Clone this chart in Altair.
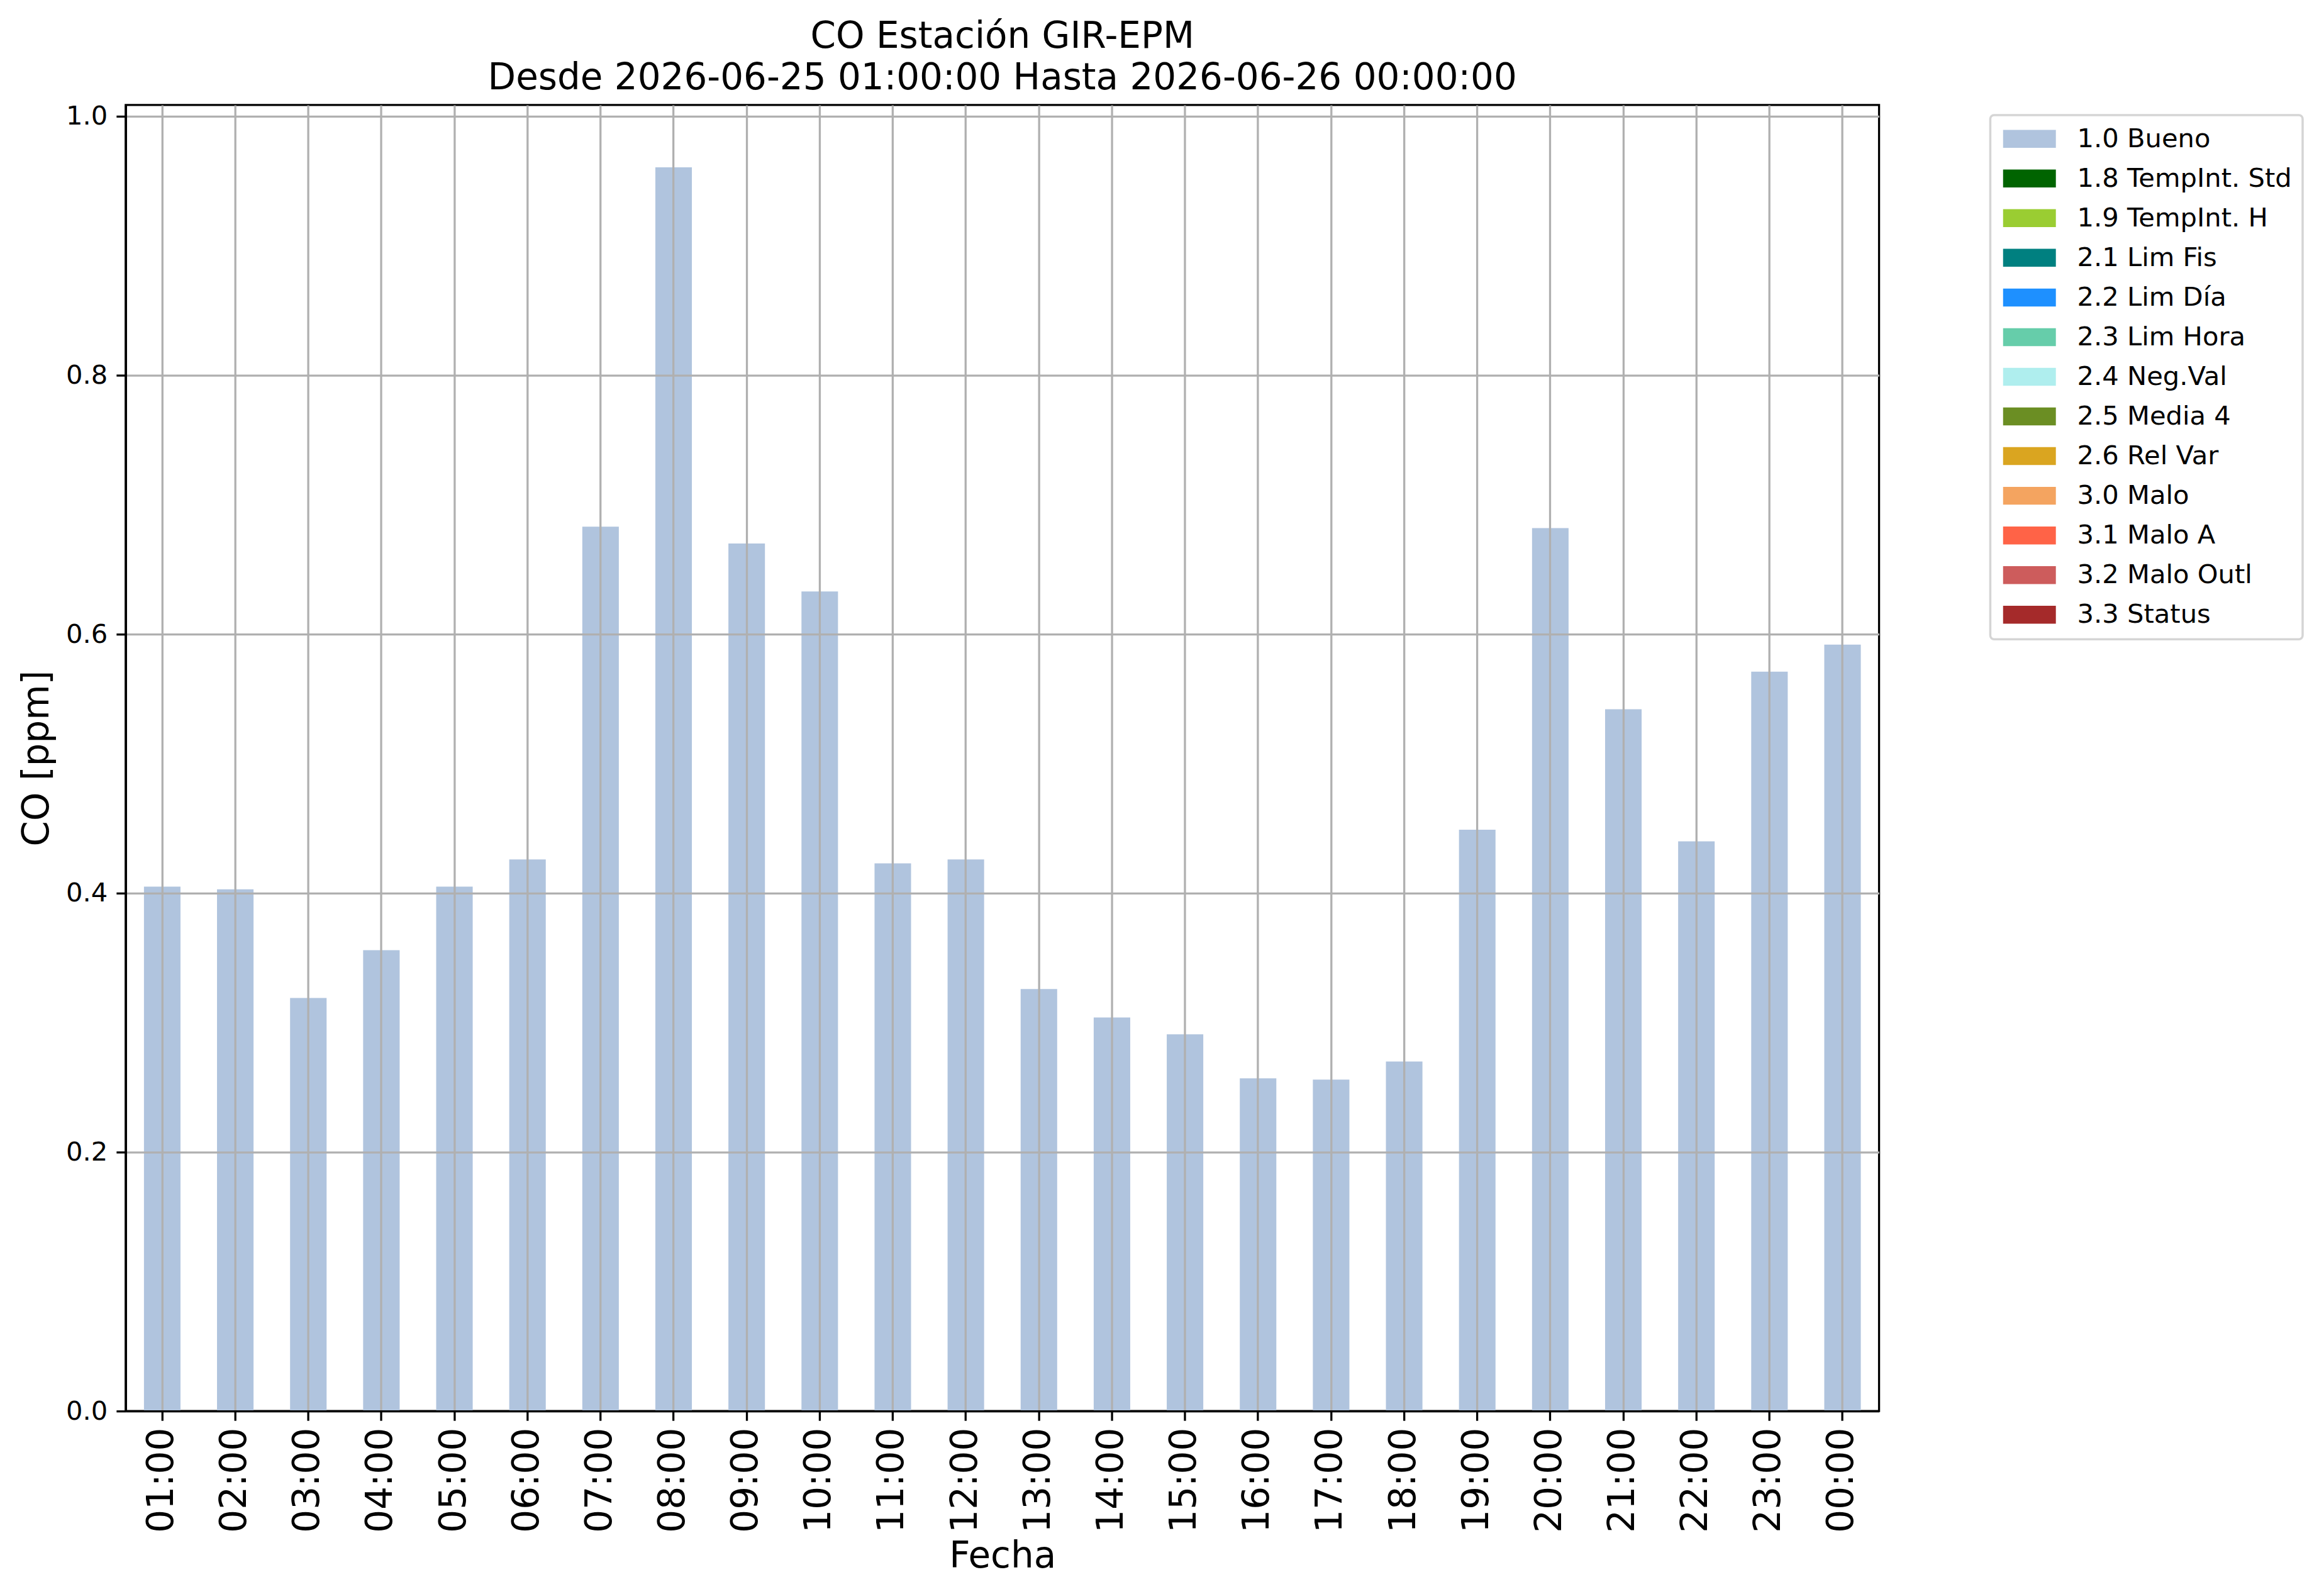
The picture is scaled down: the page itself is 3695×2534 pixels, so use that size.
import altair as alt
import pandas as pd

hours = ["01:00", "02:00", "03:00", "04:00", "05:00", "06:00", "07:00", "08:00",
         "09:00", "10:00", "11:00", "12:00", "13:00", "14:00", "15:00", "16:00",
         "17:00", "18:00", "19:00", "20:00", "21:00", "22:00", "23:00", "00:00"]
co_values = [0.405, 0.403, 0.319, 0.356, 0.405, 0.426, 0.683, 0.9605,
             0.670, 0.633, 0.423, 0.426, 0.326, 0.304, 0.291, 0.257,
             0.256, 0.270, 0.449, 0.682, 0.542, 0.440, 0.571, 0.592]
flag_names = ["1.0 Bueno", "1.8 TempInt. Std", "1.9 TempInt. H", "2.1 Lim Fis",
              "2.2 Lim Día", "2.3 Lim Hora", "2.4 Neg.Val", "2.5 Media 4",
              "2.6 Rel Var", "3.0 Malo", "3.1 Malo A", "3.2 Malo Outl", "3.3 Status"]
flag_colors = ["#B0C4DE", "#006400", "#9ACD32", "#008080", "#1E90FF", "#66CDAA",
               "#AFEEEE", "#6B8E23", "#DAA520", "#F4A460", "#FF6347", "#CD5C5C", "#A52A2A"]
y_ticks = [0.0, 0.2, 0.4, 0.6, 0.8, 1.0]
title_lines = ["CO Estación GIR-EPM",
               "Desde 2026-06-25 01:00:00 Hasta 2026-06-26 00:00:00"]

df = pd.DataFrame({"hora": hours, "co": co_values, "flag": [flag_names[0]] * len(hours)})

FONT = "DejaVu Sans"
LW = 3.3
W = 2790
H = 2078

chart = alt.Chart(df).mark_bar(opacity=1).encode(
    x=alt.X("hora:N", sort=hours,
            scale=alt.Scale(paddingInner=0.5, paddingOuter=0.25),
            axis=alt.Axis(title="Fecha", labelAngle=270, labelFontSize=58,
                          labelFont=FONT, labelColor="black", labelPadding=11,
                          tickSize=15, tickWidth=LW, tickColor="black",
                          domainColor="black", domainWidth=LW,
                          grid=True, gridColor="#b0b0b0", gridWidth=LW,
                          titleFont=FONT, titleFontSize=58, titleFontWeight="normal",
                          titleColor="black", titleX=W / 2, titleY=248,
                          titleBaseline="alphabetic", titleAlign="center",
                          labelOverlap=False, zindex=1)),
    y=alt.Y("co:Q", scale=alt.Scale(domain=[0, 1.0087], nice=False, zero=True),
            axis=alt.Axis(title="CO [ppm]", values=y_ticks, format=".1f",
                          labelFontSize=41.7, labelFont=FONT, labelColor="black",
                          labelPadding=14, tickSize=15, tickWidth=LW, tickColor="black",
                          domainColor="black", domainWidth=LW,
                          grid=True, gridColor="#b0b0b0", gridWidth=LW,
                          titleFont=FONT, titleFontSize=58, titleFontWeight="normal",
                          titleColor="black", titleAngle=270, titleX=-123, titleY=H / 2,
                          titleBaseline="alphabetic", titleAlign="center", zindex=1)),
    color=alt.Color("flag:N",
                    scale=alt.Scale(domain=flag_names, range=flag_colors),
                    legend=alt.Legend(title=None, orient="none", legendX=2967, legendY=16,
                                      symbolType="M-2.4,-0.814H2.4V0.814H-2.4Z", symbolSize=1225,
                                      symbolOffset=24.5,
                                      symbolStrokeWidth=0, symbolOpacity=1,
                                      labelFont=FONT, labelFontSize=41.7, labelColor="black",
                                      labelOffset=55, rowPadding=20.1, padding=17,
                                      strokeColor="#d5d5d5",
                                      cornerRadius=6, fillColor="white",
                                      labelLimit=1000)),
).properties(
    width=W,
    height=H,
    background="white",
    title=alt.TitleParams(text=title_lines, anchor="middle", frame="group",
                          fontSize=58, font=FONT, fontWeight="normal", color="black",
                          lineHeight=66, baseline="alphabetic", offset=24, dy=59),
    autosize=alt.AutoSizeParams(type="none"),
    padding={"left": 192, "top": 158, "right": 700, "bottom": 280},
).configure_view(stroke="black", strokeWidth=LW
).configure_legend(strokeWidth=3.5)

chart.save("out.html", embed_options={"renderer": "svg", "actions": False})
